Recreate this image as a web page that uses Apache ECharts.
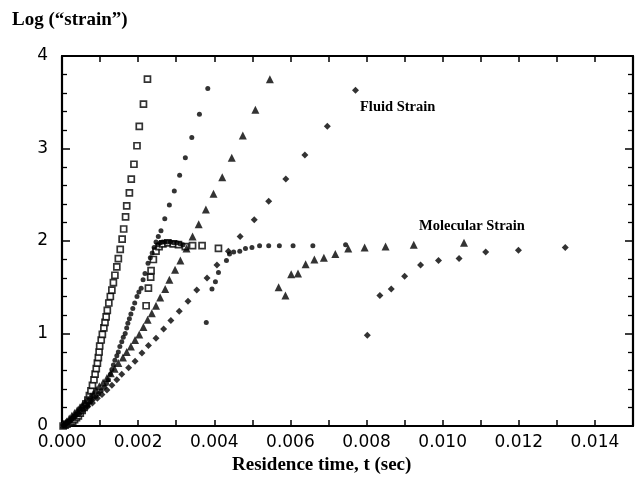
<!DOCTYPE html>
<html>
<head>
<meta charset="utf-8">
<script src="https://cdn.jsdelivr.net/npm/echarts@6/dist/echarts.min.js"></script>
<style>
html,body{margin:0;padding:0;background:#fff;}
#chart{width:640px;height:485px;}
</style>
</head>
<body>
<div id="chart"></div>
<script>
// Time values in milliseconds (converted to seconds for the axis), y = log("strain")
var squaresFluid = [[0.03,0.00],[0.08,0.01],[0.13,0.02],[0.18,0.03],[0.23,0.04],[0.28,0.05],[0.33,0.07],[0.38,0.09],[0.43,0.11],[0.48,0.14],[0.53,0.17],[0.58,0.20],[0.63,0.24],[0.68,0.28],[0.72,0.33],[0.76,0.38],[0.80,0.44],[0.84,0.50],[0.87,0.56],[0.90,0.62],[0.93,0.68],[0.955,0.74],[0.975,0.80],[0.99,0.865],[1.03,0.93],[1.06,0.99],[1.10,1.06],[1.13,1.12],[1.16,1.18],[1.19,1.25],[1.23,1.33],[1.27,1.40],[1.31,1.47],[1.35,1.55],[1.39,1.63],[1.44,1.72],[1.48,1.81],[1.53,1.91],[1.58,2.02],[1.62,2.13],[1.67,2.26],[1.70,2.38],[1.77,2.52],[1.82,2.67],[1.89,2.83],[1.97,3.03],[2.03,3.24],[2.14,3.48],[2.245,3.75]];
var squaresMolecular = [[2.21,1.30],[2.27,1.49],[2.33,1.61],[2.34,1.68],[2.40,1.80],[2.47,1.89],[2.55,1.94],[2.65,1.97],[2.78,1.98],[2.92,1.97],[3.06,1.96],[3.24,1.94],[3.43,1.95],[3.68,1.95],[4.11,1.92]];

var dotsFluid = [[0.05,0.01],[0.12,0.03],[0.19,0.05],[0.26,0.08],[0.33,0.10],[0.40,0.13],[0.47,0.15],[0.54,0.18],[0.61,0.20],[0.68,0.23],[0.75,0.26],[0.82,0.29],[0.89,0.32],[0.96,0.35],[1.03,0.38],[1.11,0.42],[1.17,0.46],[1.22,0.50],[1.27,0.56],[1.31,0.61],[1.35,0.66],[1.39,0.71],[1.44,0.76],[1.48,0.80],[1.52,0.86],[1.57,0.91],[1.61,0.96],[1.66,1.00],[1.70,1.06],[1.73,1.11],[1.77,1.16],[1.81,1.21],[1.86,1.27],[1.91,1.33],[1.97,1.40],[2.02,1.45],[2.08,1.49],[2.13,1.58],[2.18,1.65],[2.26,1.76],[2.32,1.82],[2.37,1.87],[2.42,1.93],[2.47,1.99],[2.53,2.05],[2.60,2.11],[2.70,2.24],[2.82,2.39],[2.95,2.54],[3.09,2.71],[3.24,2.90],[3.41,3.12],[3.61,3.37],[3.83,3.65]];
var dotsMolecular = [[2.52,1.96],[2.58,1.98],[2.64,1.99],[2.70,1.99],[2.77,1.99],[2.85,1.99],[2.93,1.98],[3.02,1.98],[3.10,1.97],[3.18,1.96],[3.79,1.12],[3.94,1.48],[4.03,1.56],[4.11,1.66],[4.32,1.79],[4.40,1.86],[4.51,1.88],[4.67,1.89],[4.82,1.92],[4.99,1.93],[5.19,1.95],[5.43,1.95],[5.71,1.95],[6.07,1.95],[6.59,1.95],[7.45,1.96]];

var trianglesFluid = [[0.05,0.02],[0.12,0.05],[0.19,0.08],[0.26,0.11],[0.33,0.14],[0.40,0.17],[0.47,0.20],[0.54,0.23],[0.61,0.26],[0.68,0.29],[0.75,0.32],[0.82,0.35],[0.90,0.39],[0.98,0.43],[1.08,0.47],[1.18,0.52],[1.28,0.57],[1.38,0.62],[1.48,0.68],[1.60,0.74],[1.70,0.80],[1.81,0.86],[1.92,0.93],[2.03,0.99],[2.14,1.07],[2.25,1.15],[2.36,1.22],[2.47,1.30],[2.58,1.39],[2.71,1.48],[2.82,1.58],[2.97,1.69],[3.11,1.79],[3.27,1.92],[3.43,2.05],[3.59,2.18],[3.78,2.34],[3.98,2.51],[4.21,2.69],[4.46,2.90],[4.75,3.14],[5.08,3.42],[5.46,3.75]];
var trianglesMolecular = [[5.69,1.50],[5.87,1.41],[6.02,1.64],[6.20,1.65],[6.40,1.75],[6.63,1.80],[6.88,1.82],[7.18,1.86],[7.52,1.92],[7.95,1.93],[8.50,1.94],[9.24,1.96],[10.56,1.98]];

var diamondsFluid = [[0.04,0.01],[0.12,0.03],[0.23,0.06],[0.34,0.10],[0.45,0.13],[0.56,0.17],[0.68,0.21],[0.80,0.25],[0.93,0.30],[1.05,0.34],[1.18,0.39],[1.31,0.44],[1.44,0.50],[1.57,0.56],[1.75,0.63],[1.92,0.70],[2.10,0.79],[2.27,0.87],[2.47,0.95],[2.67,1.05],[2.86,1.14],[3.08,1.24],[3.31,1.35],[3.54,1.47],[3.81,1.60],[4.07,1.74],[4.37,1.89],[4.68,2.05],[5.05,2.23],[5.43,2.43],[5.88,2.67],[6.38,2.93],[6.97,3.24],[7.71,3.63]];
var diamondsMolecular = [[8.02,0.98],[8.35,1.41],[8.65,1.48],[9.00,1.62],[9.42,1.74],[9.89,1.79],[10.43,1.81],[11.13,1.88],[11.99,1.90],[13.22,1.93]];

var xTickLabels = ['0.000','0.002','0.004','0.006','0.008','0.010','0.012','0.014'];
var yTickLabels = ['0','1','2','3','4'];
var yAxisTitle = 'Log (\u201cstrain\u201d)';
var xAxisTitle = 'Residence time, t (sec)';
var annotations = ['Fluid Strain', 'Molecular Strain'];

function toSec(arr){ return arr.map(function(p){ return [p[0]/1000, p[1]]; }); }

var chart = echarts.init(document.getElementById('chart'), null, {renderer:'canvas'});

function sq(name, data){
  return {name:name, type:'scatter', data:toSec(data), symbol:'rect', symbolSize:6,
    itemStyle:{color:'#fff', borderColor:'#000', borderWidth:1.7}, silent:true, z:3};
}
function filled(name, data, sym, size){
  return {name:name, type:'scatter', data:toSec(data), symbol:sym, symbolSize:size,
    itemStyle:{color:'#000'}, silent:true, z:4};
}

var axisLineStyle = {color:'#000', width:2.2};
var labelFont = {fontFamily:'DejaVu Sans', fontSize:17, color:'#000'};

var option = {
  animation:false,
  backgroundColor:'#fff',
  grid:{left:62, right:7, top:56, bottom:59},
  xAxis:[{
    type:'value', position:'bottom', min:0, max:0.015, interval:0.001,
    axisLine:{show:true, lineStyle:axisLineStyle, onZero:false},
    axisTick:{show:true, inside:true, length:6, lineStyle:{color:'#000', width:1.5}},
    axisLabel:Object.assign({margin:8, showMaxLabel:true, formatter:function(v){
      var k = Math.round(v*1000);
      return (k % 2 === 0) ? (xTickLabels[k/2] || '') : '';
    }}, labelFont),
    splitLine:{show:false}
  },{
    type:'value', position:'top', min:0, max:0.015, interval:0.001,
    axisLine:{show:true, lineStyle:axisLineStyle, onZero:false},
    axisTick:{show:true, inside:true, length:6, lineStyle:{color:'#000', width:1.5}},
    axisLabel:{show:false}, splitLine:{show:false}
  }],
  yAxis:[{
    type:'value', position:'left', min:0, max:4, interval:1,
    axisLine:{show:true, lineStyle:axisLineStyle, onZero:false},
    axisTick:{show:true, inside:true, length:8, lineStyle:{color:'#000', width:1.5}},
    minorTick:{show:true, splitNumber:5, length:5, lineStyle:{color:'#000', width:1.3}},
    axisLabel:Object.assign({margin:14, formatter:function(v){ return yTickLabels[Math.round(v)]; }}, labelFont),
    splitLine:{show:false}
  },{
    type:'value', position:'right', min:0, max:4, interval:1,
    axisLine:{show:true, lineStyle:axisLineStyle, onZero:false},
    axisTick:{show:true, inside:true, length:8, lineStyle:{color:'#000', width:1.5}},
    minorTick:{show:true, splitNumber:5, length:5, lineStyle:{color:'#000', width:1.3}},
    axisLabel:{show:false}, splitLine:{show:false}
  }],
  series:[
    sq('Squares fluid', squaresFluid),
    sq('Squares molecular', squaresMolecular),
    filled('Dots fluid', dotsFluid, 'circle', 5),
    filled('Dots molecular', dotsMolecular, 'circle', 5),
    filled('Triangles fluid', trianglesFluid, 'triangle', 8),
    filled('Triangles molecular', trianglesMolecular, 'triangle', 8),
    filled('Diamonds fluid', diamondsFluid, 'diamond', 7),
    filled('Diamonds molecular', diamondsMolecular, 'diamond', 7)
  ],
  graphic:[
    {type:'text', left:12, top:11, style:{text:yAxisTitle, font:'bold 19px "Liberation Serif"', fill:'#000'}},
    {type:'text', left:232, top:456, style:{text:xAxisTitle, font:'bold 19px "Liberation Serif"', fill:'#000'}},
    {type:'text', left:360, top:100, style:{text:annotations[0], font:'bold 14.5px "Liberation Serif"', fill:'#000'}},
    {type:'text', left:419, top:219, style:{text:annotations[1], font:'bold 14.5px "Liberation Serif"', fill:'#000'}}
  ]
};
chart.setOption(option);
</script>
</body>
</html>
